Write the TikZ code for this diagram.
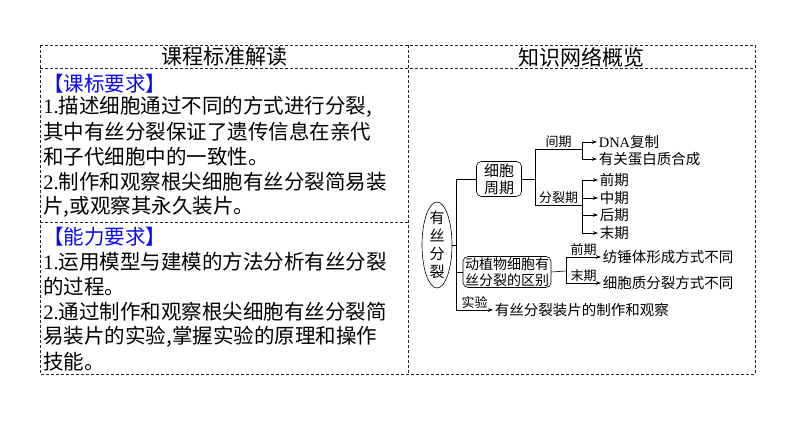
\documentclass[tikz,border=0pt]{standalone}
\usepackage{fontspec}
\setmainfont{Liberation Serif}
\newfontfamily\hei{Noto Sans CJK SC}
\usetikzlibrary{arrows.meta,shapes.geometric}
\definecolor{reqBlue}{RGB}{10,10,235}
\newcommand\latn[1]{{\rmfamily #1}}

\begin{document}
\begin{tikzpicture}[x=1pt, y=-1pt, line width=0.6pt,
  every node/.style={inner sep=0pt, font=\hei},
  head/.style={font=\hei\fontsize{21}{25}\selectfont},
  body/.style={anchor=west, font=\hei\fontsize{20.5}{25}\selectfont},
  req/.style={body, text=reqBlue},
  tab/.style={dash pattern=on 3pt off 2pt, line width=0.8pt, black!85},
  cbox/.style={draw, rounded corners=5pt, align=center, inner sep=1pt},
  item/.style={anchor=west, inner sep=1.5pt, font=\hei\fontsize{14.5}{17}\selectfont},
  lab/.style={above, inner sep=1.5pt, font=\hei\fontsize{13}{15}\selectfont},
  arr/.style={-{Stealth[length=5pt, width=3.5pt]}}]
  \useasboundingbox (0,0) rectangle (794,446);
  % Table frame
  \draw[tab] (40,45) rectangle (755,374);
  \draw[tab] (40,68) -- (755,68);
  \draw[tab] (408,45) -- (408,374);
  \draw[tab] (40,222) -- (408,222);
  % Column heads
  \node[head] (kcbz) at (224,57) {课程标准解读};
  \node[head] (zswl) at (581,57) {知识网络概览};
  % Left column
  \node[req] (kbyq) at (43,84) {【课标要求】};
  \foreach \y/\t [count=\i] in {107/{\latn{1.}描述细胞通过不同的方式进行分裂,},
      132/{其中有丝分裂保证了遗传信息在亲代},
      157/{和子代细胞中的一致性。},
      182/{\latn{2.}制作和观察根尖细胞有丝分裂简易装},
      207/{片,或观察其永久装片。}}
    \node[body] (kb\i) at (43,\y) {\t};
  \node[req] (nlyq) at (43,237) {【能力要求】};
  \foreach \y/\t [count=\i] in {262/{\latn{1.}运用模型与建模的方法分析有丝分裂},
      287/{的过程。},
      312/{\latn{2.}通过制作和观察根尖细胞有丝分裂简},
      337/{易装片的实验,掌握实验的原理和操作},
      362/{技能。}}
    \node[body] (nl\i) at (43,\y) {\t};
  % Knowledge network
  \node[draw, ellipse, minimum width=30pt, minimum height=86pt] (ysfl) at (437,245) {};
  \node[align=center, font=\hei\fontsize{15}{18}\selectfont] at (ysfl) {有\\丝\\分\\裂};
  \coordinate (ta) at (456,179);
  \coordinate (tb) at (456,310);
  \draw (ta) -- (tb);
  \draw (ysfl.east) -- (ysfl.east -| ta);
  \node[cbox, minimum width=45pt, minimum height=35pt, font=\hei\fontsize{15}{17}\selectfont]
    (xbzq) at (499,179) {细胞\\周期};
  \node[cbox, minimum width=88pt, minimum height=31pt, font=\hei\fontsize{14}{15.5}\selectfont]
    (dzwqb) at (507,272) {动植物细胞有\\丝分裂的区别};
  \draw (ta) -- (xbzq.west);
  \draw (dzwqb.west -| ta) -- (dzwqb.west);
  % Cell cycle
  \coordinate (ja) at (535,149);
  \coordinate (jb) at (535,205);
  \coordinate (jc) at (582,149);
  \coordinate (jd) at (582,205);
  \draw (xbzq.east) -- (xbzq.east -| ja);
  \draw (ja) -- (jb);
  \draw (ja) -- node[lab] {间期} (jc);
  \draw (jb) -- node[lab] {分裂期} (jd);
  \node[item] (dna) at (597,142) {\latn{DNA}复制};
  \node[item] (dbz) at (597,159) {有关蛋白质合成};
  \draw[arr] (jc) |- (dna.west);
  \draw[arr] (jc) |- (dbz.west);
  \foreach \n/\y/\t in {qq/180/前期, zq/198/中期, hq/215/后期, mq/233/末期} {
    \node[item] (\n) at (598,\y) {\t};
    \draw[arr] (jd) |- (\n.west);
  }
  % Differences
  \coordinate (je) at (566,271);
  \draw (dzwqb.east) -- (je);
  \node[item] (fcx) at (601,257) {纺锤体形成方式不同};
  \node[item] (xbz) at (601,283) {细胞质分裂方式不同};
  \draw[arr] (je) |- node[lab, pos=0.75] {前期} (fcx.west);
  \draw[arr] (je) |- node[lab, pos=0.75] {末期} (xbz.west);
  % Experiment
  \node[item] (zzgc) at (493,310) {有丝分裂装片的制作和观察};
  \draw[arr] (tb) -- node[lab] {实验} (zzgc.west);
\end{tikzpicture}
\end{document}
